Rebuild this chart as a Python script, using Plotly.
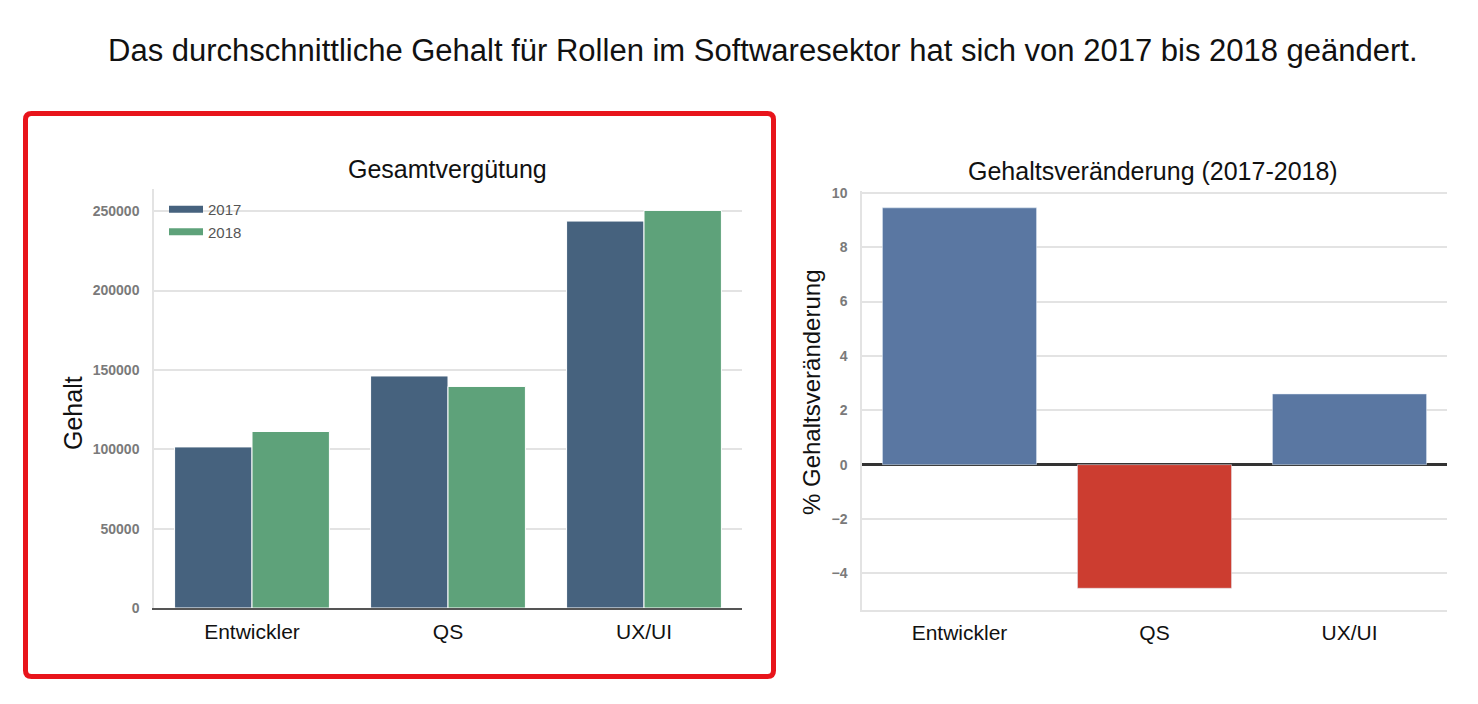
import plotly.graph_objects as go

# Daten
rollen = ["Entwickler", "QS", "UX/UI"]
gehalt_2017 = [101500, 146200, 243800]
gehalt_2018 = [111200, 139600, 250500]
veraenderung = [9.45, -4.55, 2.6]

farbe_2017 = "#46627E"
farbe_2018 = "#5EA27A"
farbe_plus = "#5A77A2"
farbe_minus = "#CC3D30"

W, H = 1478, 704

# Pixel (wie im Vorbild gemessen) -> Papierkoordinaten
def px_x(p):
    return (p - 7) / W

def px_y(p):
    return 1 - (p - 13) / 690

fig = go.Figure()

# linkes Diagramm: Gesamtvergütung
fig.add_trace(go.Bar(x=rollen, y=gehalt_2017, name="2017", marker=dict(color=farbe_2017, line=dict(color="white", width=1)),
                     xaxis="x", yaxis="y", showlegend=False))
fig.add_trace(go.Bar(x=rollen, y=gehalt_2018, name="2018", marker=dict(color=farbe_2018, line=dict(color="white", width=1)),
                     xaxis="x", yaxis="y", showlegend=False))
# Legendeneinträge als breite Balkensymbole
fig.add_trace(go.Scatter(x=[None], y=[None], mode="lines", name="2017", line=dict(color=farbe_2017, width=7),
                         xaxis="x", yaxis="y"))
fig.add_trace(go.Scatter(x=[None], y=[None], mode="lines", name="2018", line=dict(color=farbe_2018, width=7),
                         xaxis="x", yaxis="y"))

# rechtes Diagramm: Veränderung in %
fig.add_trace(go.Bar(x=rollen, y=veraenderung,
                     marker=dict(color=[farbe_plus if v >= 0 else farbe_minus for v in veraenderung]),
                     xaxis="x2", yaxis="y2", showlegend=False))

grid = "#E3E3E3"
tick_font = dict(family="Liberation Sans, Arial", size=14, color="#7A7A7A", weight="bold")
cat_font = dict(family="Liberation Sans, Arial", size=21, color="#111111")

fig.update_layout(
    width=W, height=H,
    margin=dict(l=0, r=0, t=0, b=0),
    paper_bgcolor="white", plot_bgcolor="white",
    barmode="group", bargap=0.21, bargroupgap=0,
    font=dict(family="Liberation Sans, Arial"),
    legend=dict(x=px_x(163), y=px_y(192), xanchor="left", yanchor="top",
                font=dict(size=15, color="#555555"), bgcolor="rgba(0,0,0,0)",
                itemwidth=34, tracegroupgap=2),
    xaxis=dict(domain=[px_x(153), px_x(741)], anchor="y", showline=True, linecolor="#555555", linewidth=2,
               showgrid=False, ticks="outside", ticklen=4, tickcolor="rgba(0,0,0,0)", tickfont=cat_font),
    yaxis=dict(domain=[px_y(607), px_y(188)], anchor="x", range=[0, 264000], tickvals=[0, 50000, 100000, 150000, 200000, 250000],
               tickformat="d", showgrid=True, gridcolor=grid, gridwidth=1.5, zeroline=False,
               showline=True, linecolor="#E3E3E3", linewidth=1.5,
               ticks="outside", ticklen=10, tickcolor="rgba(0,0,0,0)", tickfont=tick_font),
    xaxis2=dict(domain=[px_x(861), px_x(1446)], anchor="y2", showline=True, linecolor="#E3E3E3", linewidth=1.5,
                showgrid=False, ticks="outside", ticklen=3, tickcolor="rgba(0,0,0,0)", tickfont=cat_font),
    yaxis2=dict(domain=[px_y(609), px_y(190)], anchor="x2", range=[-5.35, 10.07], tickvals=[-4, -2, 0, 2, 4, 6, 8, 10],
                showgrid=True, gridcolor=grid, gridwidth=1.5,
                zeroline=True, zerolinecolor="#333333", zerolinewidth=3,
                showline=True, linecolor="#E3E3E3", linewidth=1.5,
                ticks="outside", ticklen=10, tickcolor="rgba(0,0,0,0)", tickfont=tick_font),
)

# roter Rahmen mit abgerundeten Ecken um das linke Diagramm
x0, x1, y0, y1 = px_x(24.5), px_x(772.5), px_y(675.5), px_y(112.5)
rx, ry = 6 / W, 6 / 690
rahmen = (f"M {x0 + rx} {y0} L {x1 - rx} {y0} Q {x1} {y0} {x1} {y0 + ry} "
          f"L {x1} {y1 - ry} Q {x1} {y1} {x1 - rx} {y1} "
          f"L {x0 + rx} {y1} Q {x0} {y1} {x0} {y1 - ry} "
          f"L {x0} {y0 + ry} Q {x0} {y0} {x0 + rx} {y0} Z")
fig.add_shape(type="path", path=rahmen, xref="paper", yref="paper", line=dict(color="#E8141B", width=5))

# Titel und Achsentitel
def text(t, x, y, size, angle=0):
    fig.add_annotation(text=t, x=px_x(x), y=px_y(y), xref="paper", yref="paper", showarrow=False,
                       xanchor="center", yanchor="middle", textangle=angle,
                       font=dict(size=size, color="#111111"))

text("Das durchschnittliche Gehalt für Rollen im Softwaresektor hat sich von 2017 bis 2018 geändert.", 762, 50, 31)
text("Gesamtvergütung", 447, 168, 25)
text("Gehaltsveränderung (2017-2018)", 1152, 170, 25)
text("Gehalt", 72, 412, 25, -90)
text("% Gehaltsveränderung", 810, 392, 24, -90)

fig.write_html("out.html")
